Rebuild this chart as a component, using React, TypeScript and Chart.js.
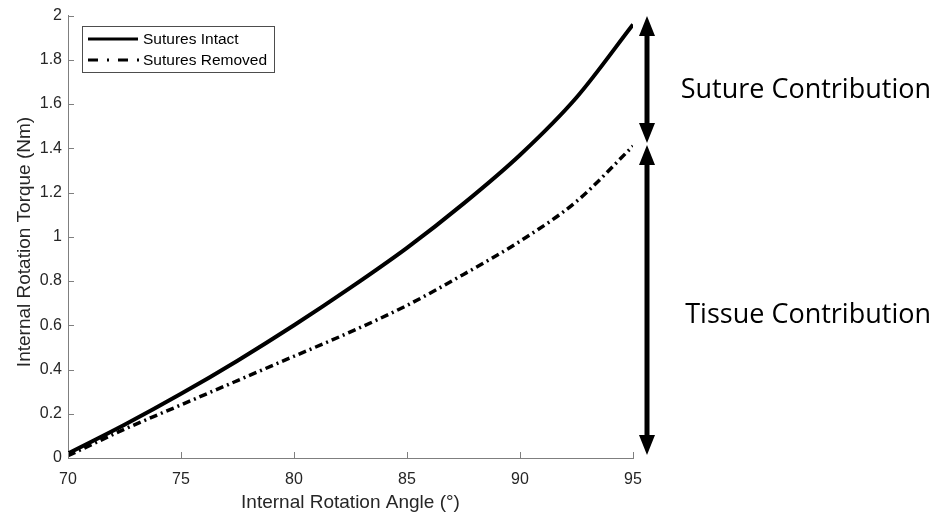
import React, { useEffect, useRef } from "react";
import { Chart, registerables } from "chart.js";
Chart.register(...registerables);

const angles = [70, 72.5, 75, 77.5, 80, 82.5, 85, 87.5, 90, 92.5, 95];
const suturesIntact = [0.02, 0.15, 0.29, 0.44, 0.6, 0.77, 0.95, 1.15, 1.37, 1.63, 1.96];
const suturesRemoved = [0.01, 0.13, 0.24, 0.35, 0.46, 0.57, 0.69, 0.83, 0.98, 1.16, 1.41];
const xTicks = [70, 75, 80, 85, 90, 95];
const yTicks = [0, 0.2, 0.4, 0.6, 0.8, 1, 1.2, 1.4, 1.6, 1.8, 2];
const seriesLabels = ["Sutures Intact", "Sutures Removed"];
const annotations = ["Suture Contribution", "Tissue Contribution"];
const xTitle = "Internal Rotation Angle (°)";
const yTitle = "Internal Rotation Torque (Nm)";

const FONT = "'Liberation Sans', Arial, sans-serif";

const decor = {
  id: "decor",
  afterDraw(chart: any) {
    const ctx = chart.ctx;
    const xs = chart.scales.x;
    const ys = chart.scales.y;
    const ca = chart.chartArea;
    ctx.save();
    // inward ticks
    ctx.strokeStyle = "#7f7f7f";
    ctx.lineWidth = 1;
    ctx.beginPath();
    xTicks.forEach((t) => {
      const px = Math.round(xs.getPixelForValue(t)) + 0.5;
      ctx.moveTo(px, ca.bottom);
      ctx.lineTo(px, ca.bottom - 6);
    });
    yTicks.forEach((t) => {
      const py = Math.round(ys.getPixelForValue(t)) + 0.5;
      ctx.moveTo(ca.left, py);
      ctx.lineTo(ca.left + 6, py);
    });
    ctx.stroke();

    // axis titles
    ctx.fillStyle = "#262626";
    ctx.font = `19px ${FONT}`;
    ctx.textAlign = "center";
    ctx.textBaseline = "alphabetic";
    ctx.fillText(xTitle, (ca.left + ca.right) / 2, 508);
    ctx.save();
    ctx.translate(30, 242);
    ctx.rotate(-Math.PI / 2);
    ctx.fillText(yTitle, 0, 0);
    ctx.restore();

    // legend
    const lx = 82, ly = 26, lw = 192, lh = 46;
    ctx.fillStyle = "#fff";
    ctx.fillRect(lx, ly, lw, lh);
    ctx.strokeStyle = "#4d4d4d";
    ctx.lineWidth = 1;
    ctx.strokeRect(lx + 0.5, ly + 0.5, lw, lh);
    ctx.strokeStyle = "#000";
    ctx.lineWidth = 3;
    ctx.beginPath();
    ctx.moveTo(88, 39);
    ctx.lineTo(138, 39);
    ctx.stroke();
    ctx.setLineDash([10, 9, 2, 9]);
    ctx.beginPath();
    ctx.moveTo(88, 60);
    ctx.lineTo(139, 60);
    ctx.stroke();
    ctx.setLineDash([]);
    ctx.fillStyle = "#000";
    ctx.font = `15.5px ${FONT}`;
    ctx.textBaseline = "middle";
    ctx.textAlign = "left";
    ctx.fillText(seriesLabels[0], 143, 40);
    ctx.fillText(seriesLabels[1], 143, 61);

    // arrows
    const ax = 647;
    const drawArrow = (y1: number, y2: number) => {
      const hw = 8, hh = 20;
      ctx.strokeStyle = "#000";
      ctx.fillStyle = "#000";
      ctx.lineWidth = 5;
      ctx.beginPath();
      ctx.moveTo(ax, y1 + hh - 2);
      ctx.lineTo(ax, y2 - hh + 2);
      ctx.stroke();
      ctx.beginPath();
      ctx.moveTo(ax, y1);
      ctx.lineTo(ax - hw, y1 + hh);
      ctx.lineTo(ax + hw, y1 + hh);
      ctx.closePath();
      ctx.fill();
      ctx.beginPath();
      ctx.moveTo(ax, y2);
      ctx.lineTo(ax - hw, y2 - hh);
      ctx.lineTo(ax + hw, y2 - hh);
      ctx.closePath();
      ctx.fill();
    };
    drawArrow(16, 143);
    drawArrow(145, 455);

    ctx.fillStyle = "#000";
    ctx.font = `27px 'Open Sans', sans-serif`;
    ctx.textAlign = "right";
    ctx.textBaseline = "middle";
    ctx.fillText(annotations[0], 931, 90);
    ctx.fillText(annotations[1], 931, 315);
    ctx.restore();
  },
};

export default function App() {
  const ref = useRef<HTMLCanvasElement>(null);
  useEffect(() => {
    document.body.style.margin = "0";
    const chart = new Chart(ref.current!, {
      type: "line",
      data: {
        datasets: [
          {
            label: seriesLabels[0],
            data: angles.map((a, i) => ({ x: a, y: suturesIntact[i] })),
            borderColor: "#000",
            borderWidth: 4,
            pointRadius: 0,
            cubicInterpolationMode: "monotone",
          },
          {
            label: seriesLabels[1],
            data: angles.map((a, i) => ({ x: a, y: suturesRemoved[i] })),
            borderColor: "#000",
            borderWidth: 3.5,
            borderDash: [8, 4, 2, 4],
            pointRadius: 0,
            cubicInterpolationMode: "monotone",
          },
        ],
      },
      options: {
        animation: false,
        responsive: false,
        layout: { padding: { top: 13, right: 304, left: 0, bottom: 0 } },
        plugins: { legend: { display: false }, tooltip: { enabled: false } },
        scales: {
          x: {
            type: "linear",
            min: 70,
            max: 95,
            afterBuildTicks: (s: any) => {
              s.ticks = xTicks.map((v) => ({ value: v }));
            },
            afterFit: (s: any) => {
              s.height = 58;
            },
            grid: { display: false, drawTicks: false },
            border: { color: "#7f7f7f", width: 1 },
            ticks: {
              color: "#262626",
              font: { family: FONT, size: 16 },
              padding: 12,
              maxRotation: 0,
            },
          },
          y: {
            type: "linear",
            min: 0,
            max: 2,
            afterBuildTicks: (s: any) => {
              s.ticks = yTicks.map((v) => ({ value: v }));
            },
            afterFit: (s: any) => {
              s.width = 68;
            },
            grid: { display: false, drawTicks: false },
            border: { color: "#7f7f7f", width: 1 },
            ticks: {
              color: "#262626",
              font: { family: FONT, size: 16 },
              padding: 6,
              callback: (v: any) => String(Math.round(v * 10) / 10),
            },
          },
        },
      },
      plugins: [decor],
    } as any);
    return () => chart.destroy();
  }, []);
  return <canvas ref={ref} width={937} height={516} style={{ display: "block" }} />;
}
